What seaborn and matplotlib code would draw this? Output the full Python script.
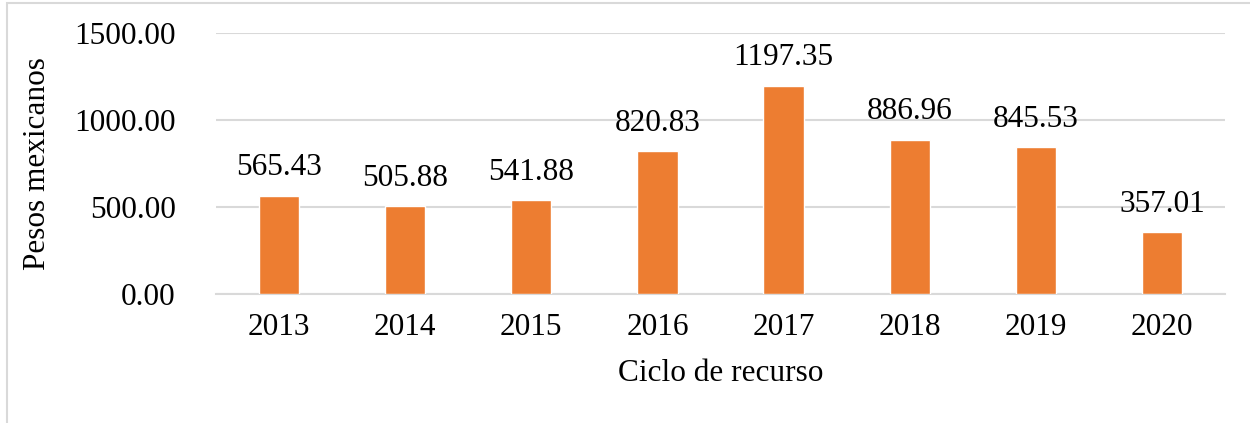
import pandas as pd
import seaborn as sns
import matplotlib.pyplot as plt
from matplotlib.patches import Rectangle

years = ["2013", "2014", "2015", "2016", "2017", "2018", "2019", "2020"]
values = [565.43, 505.88, 541.88, 820.83, 1197.35, 886.96, 845.53, 357.01]
yticks = [0, 500, 1000, 1500]

df = pd.DataFrame({"year": years, "value": values})

sns.set_theme(style="white")
plt.rcParams["font.family"] = ["Liberation Serif", "DejaVu Serif"]
plt.rcParams["text.color"] = "black"

fig = plt.figure(figsize=(12.5, 4.23), dpi=100)
ax = fig.add_axes([0.1728, 0.305, 0.8072, 0.617])

sns.barplot(data=df, x="year", y="value", color="#ED7D31", width=0.32,
            saturation=1, ax=ax, zorder=3)

ax.bar_label(ax.containers[0], fmt="%.2f", padding=9.5, fontsize=22.5,
             color="black")

ax.set_ylim(0, 1500)
ax.set_yticks(yticks)
ax.set_yticklabels([f"{v:.2f}" for v in yticks])
ax.yaxis.grid(True, color="#D9D9D9", linewidth=1.5, zorder=0)
ax.set_axisbelow(True)
for s in ["top", "right", "left"]:
    ax.spines[s].set_visible(False)
ax.spines["bottom"].set_color("#D9D9D9")
ax.spines["bottom"].set_linewidth(1.5)
ax.tick_params(axis="both", length=0, labelsize=22.5, colors="black")
ax.tick_params(axis="y", pad=29)
ax.tick_params(axis="x", pad=14)

ax.set_xlabel("Ciclo de recurso", fontsize=22.5, labelpad=12, color="black")
ax.set_ylabel("Pesos mexicanos", fontsize=22.5, labelpad=16, color="black")

fig.patches.append(Rectangle((7 / 1250, -0.05), 1.2, 1 - 3 / 423 + 0.05,
                             transform=fig.transFigure, fill=False,
                             edgecolor="#D9D9D9", linewidth=1.5))

fig.savefig("out.png", dpi=100)
plt.close()
